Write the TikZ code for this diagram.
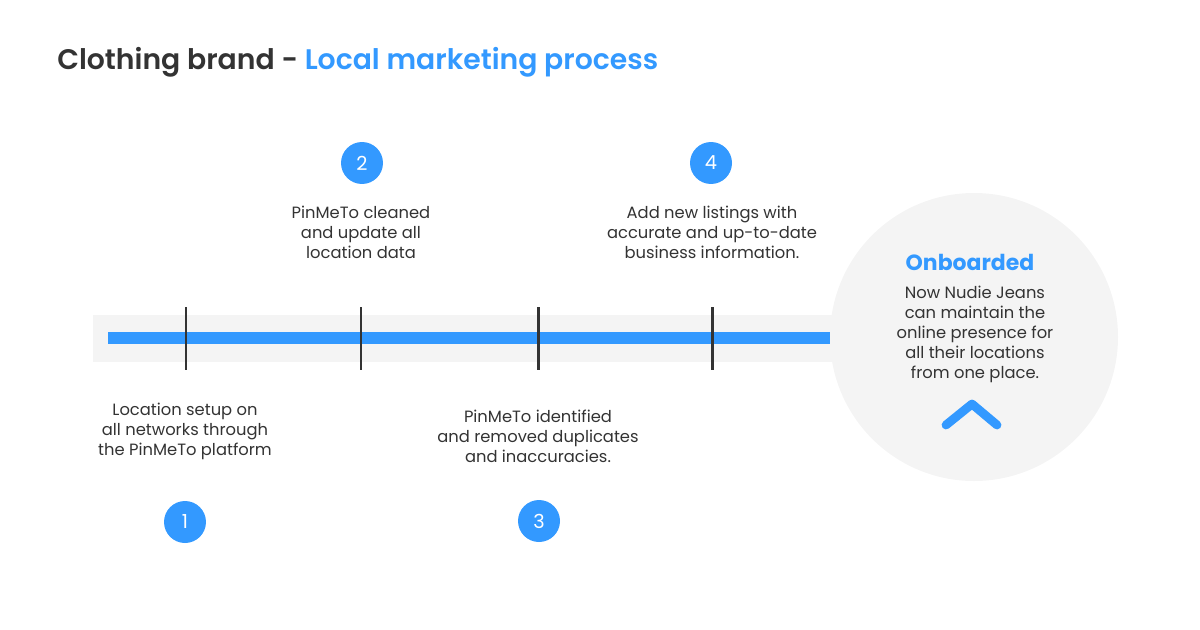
\documentclass[tikz,border=0pt]{standalone}
\usepackage{fontspec}
\setmainfont{Poppins}
\newfontfamily\titlefont{Poppins SemiBold}
\usetikzlibrary{positioning}
\definecolor{brandblue}{HTML}{3399FF}
\definecolor{bandgray}{HTML}{F4F4F4}
\definecolor{inkgray}{HTML}{333333}

\begin{document}
\begin{tikzpicture}[x=0.02cm, y=-0.02cm,
  font=\fontsize{9.3}{11.4}\selectfont, text=inkgray,
  stepnum/.style={circle, fill=brandblue, text=white, minimum size=0.84cm,
    inner sep=0pt, font=\fontsize{11}{13}\selectfont},
  steptext/.style={align=center, inner sep=0pt},
  tickmark/.style={line width=1.7pt, draw=inkgray}]
\useasboundingbox (0,0) rectangle (1200,629);
% --- Title ---
\node[anchor=base west, inner sep=0pt, font=\fontsize{16.1}{19}\titlefont] (title) at (57,69)
  {Clothing brand - \textcolor{brandblue}{Local marketing process}};
% --- Band and bar ---
\fill[bandgray] (93,315) rectangle (900,362);
\fill[bandgray] (974,337) circle (144);
\fill[brandblue] (108,332) rectangle (830,344);
\foreach \x in {186,361,538,712}
  {\draw[tickmark] (\x,307) -- (\x,370);}
% --- Steps ---
\foreach \p/\lab/\x/\y in {n1/1/185/522, n2/2/362/163, n3/3/539/521, n4/4/711/163}
  {\node[stepnum] (\p) at (\x,\y) {\lab};}
\node[steptext] (t1) at (185,431) {Location setup on\\all networks through\\the PinMeTo platform};
\node[steptext] (t2) at (361,232) {PinMeTo cleaned\\and update all\\location data};
\node[steptext] (t3) at (538,436) {PinMeTo identified\\and removed duplicates\\and inaccuracies.};
\node[steptext] (t4) at (712,232) {Add new listings with\\accurate and up-to-date\\business information.};
% --- Onboarded ---
\node[font=\fontsize{12.5}{15}\selectfont\bfseries, text=brandblue, inner sep=0pt] (done) at (970,262) {Onboarded};
\node[steptext] (donetext) at (975,334) {Now Nudie Jeans\\can maintain the\\online presence for\\all their locations\\from one place.};
\draw[brandblue, line width=5pt, line cap=round, line join=round] (946,425) -- (972,404) -- (997,425);
\end{tikzpicture}
\end{document}
